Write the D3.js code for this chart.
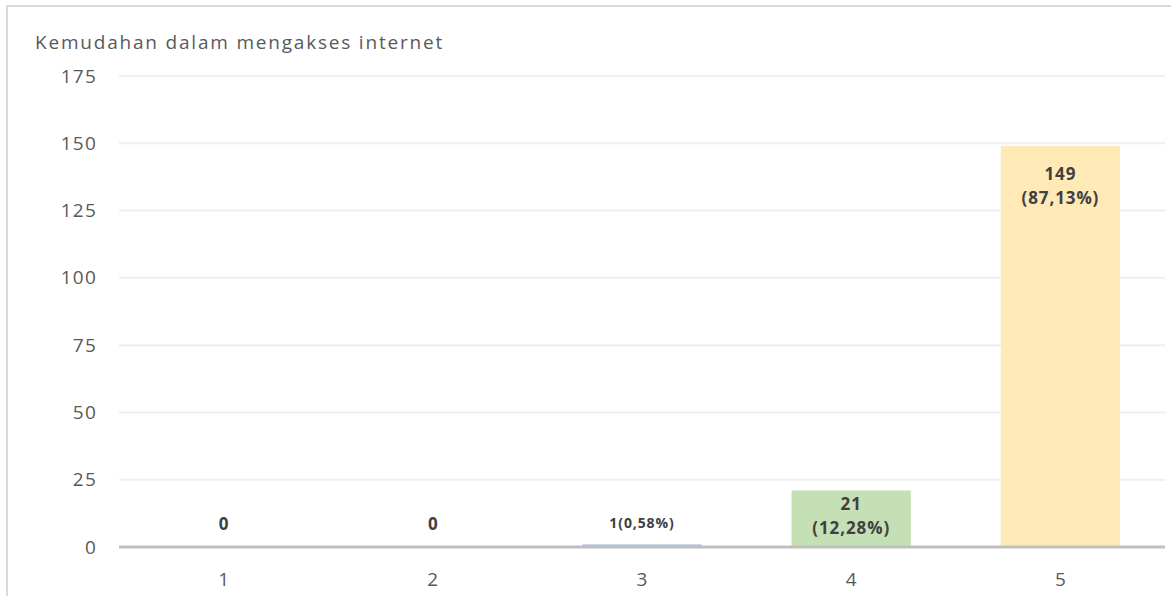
<!DOCTYPE html>
<html>
<head>
<meta charset="utf-8">
<script src="https://cdn.jsdelivr.net/npm/d3@7"></script>
<style>
  body { margin: 0; background: #fff; }
  svg { font-family: "Open Sans", "Noto Sans", sans-serif; }
</style>
</head>
<body>
<div id="chart"></div>
<script>
var categories = ["1", "2", "3", "4", "5"];
var counts = [0, 0, 1, 21, 149];
var labelLines = [["0"], ["0"], ["1(0,58%)"], ["21", "(12,28%)"], ["149", "(87,13%)"]];
var yTicks = [0, 25, 50, 75, 100, 125, 150, 175];
var barColors = ["#f8cbad", "#d9d9d9", "#b4c6e7", "#c5e0b4", "#ffe9b7"];

var width = 1171, height = 596;

var svg = d3.select("#chart").append("svg")
    .attr("width", width)
    .attr("height", height);

// outer frame of the chart box
svg.append("rect")
    .attr("x", 7).attr("y", 6)
    .attr("width", width).attr("height", height)
    .attr("fill", "none")
    .attr("stroke", "#d9d9d9")
    .attr("stroke-width", 2);

svg.append("text")
    .attr("x", 35).attr("y", 49)
    .attr("font-size", 19)
    .attr("letter-spacing", 1.8)
    .attr("fill", "#595959")
    .text("Kemudahan dalam mengakses internet");

var x = d3.scaleBand()
    .domain(categories)
    .range([119, 1165])
    .paddingInner(0.43)
    .paddingOuter(0.215);

var y = d3.scaleLinear()
    .domain([0, 175])
    .range([547, 76]);

// gridlines
svg.append("g")
    .selectAll("line")
    .data(yTicks.filter(function(d) { return d > 0; }))
    .enter().append("line")
    .attr("x1", 119).attr("x2", 1165)
    .attr("y1", function(d) { return y(d); })
    .attr("y2", function(d) { return y(d); })
    .attr("stroke", "#efefef")
    .attr("stroke-width", 2);

// y axis labels
var yAxis = svg.append("g")
    .attr("transform", "translate(97,0)")
    .call(d3.axisLeft(y).tickValues(yTicks).tickSize(0).tickPadding(0));
yAxis.select(".domain").remove();
yAxis.selectAll("text")
    .attr("font-size", 19)
    .attr("letter-spacing", 1.2)
    .attr("font-family", "Open Sans, Noto Sans, sans-serif")
    .attr("fill", "#595959");

// bars
svg.append("g")
    .selectAll("rect")
    .data(counts)
    .enter().append("rect")
    .attr("x", function(d, i) { return x(categories[i]); })
    .attr("y", function(d) { return y(d); })
    .attr("width", x.bandwidth())
    .attr("height", function(d) { return y(0) - y(d); })
    .attr("fill", function(d, i) { return barColors[i]; });

// baseline / x axis
var xAxis = svg.append("g")
    .attr("transform", "translate(0," + y(0) + ")")
    .call(d3.axisBottom(x).tickSize(0).tickPadding(26));
xAxis.select(".domain")
    .attr("stroke", "#bfbfbf")
    .attr("stroke-width", 3)
    .attr("d", "M119,0H1165");
xAxis.selectAll("text")
    .attr("font-size", 19)
    .attr("font-family", "Open Sans, Noto Sans, sans-serif")
    .attr("fill", "#595959");

// data labels
var labels = svg.append("g")
    .selectAll("text")
    .data(counts)
    .enter().append("text")
    .attr("text-anchor", "middle")
    .attr("font-weight", "bold")
    .attr("fill", "#404040")
    .attr("letter-spacing", function(d) { return d > 0 ? 0.9 : 0; })
    .attr("font-size", function(d, i) { return labelLines[i].length === 1 && d > 0 ? 14 : 17; })
    .attr("x", function(d, i) { return x(categories[i]) + x.bandwidth() / 2; })
    .attr("y", function(d, i) {
        if (d > 100) return y(d) + 34;
        if (d > 10) return y(d) + 20;
        if (d > 0) return y(0) - 19;
        return y(0) - 17;
    });

labels.each(function(d, i) {
    var t = d3.select(this);
    labelLines[i].forEach(function(line, k) {
        t.append("tspan")
            .attr("x", t.attr("x"))
            .attr("dy", k === 0 ? 0 : 24)
            .text(line);
    });
});
</script>
</body>
</html>
